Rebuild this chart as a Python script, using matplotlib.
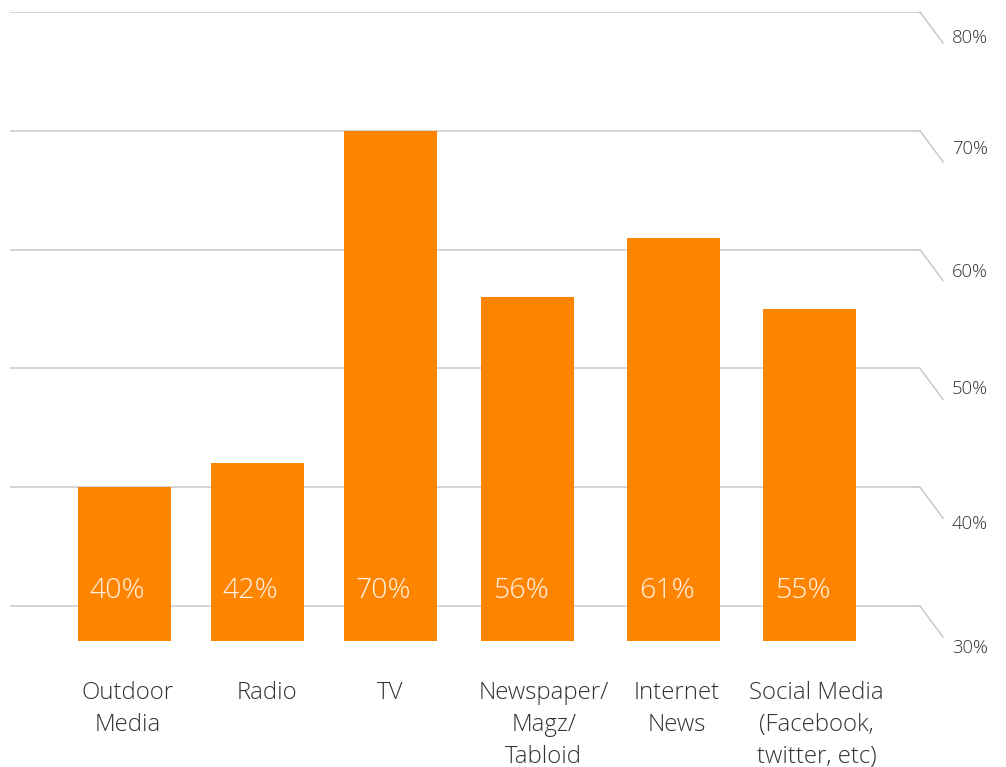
import matplotlib
matplotlib.use("Agg")
import matplotlib.pyplot as plt
import matplotlib.transforms as mtransforms
from matplotlib import font_manager

# Media sources and share of respondents (%)
categories = ["Outdoor\nMedia", "Radio", "TV", "Newspaper/\nMagz/\nTabloid",
              "Internet\nNews", "Social Media\n(Facebook,\ntwitter, etc)"]
values = [40, 42, 70, 56, 61, 55]
y_ticks = [30, 40, 50, 60, 70, 80]
tick_labels = ["30%", "40%", "50%", "60%", "70%", "80%"]

# horizontal slot of each bar (slightly uneven spacing)
bar_pos = [0.0, 0.97, 1.94, 2.94, 4.01, 5.0]
# horizontal nudge of each category caption relative to its bar
caption_shift = [0.02, 0.07, 0.0, 0.12, 0.02, 0.05]
# vertical nudge (px) of each right-hand label below its leader start
label_drop = [42, 37, 21, 22, 18, 26]

BAR_COLOR = "#FF8400"
GRID_COLOR = "#C8C8C8"
TEXT_COLOR = "#333333"

names = {f.name for f in font_manager.fontManager.ttflist}
family = ["Open Sans", "DejaVu Sans"] if "Open Sans" in names else ["DejaVu Sans"]
plt.rcParams["font.family"] = family

fig = plt.figure(figsize=(10.06, 7.67), dpi=100)
W, H = 1006, 767
ax = fig.add_axes([10 / W, (H - 641) / H, 910 / W, 629 / H])

base = 27.05
ax.set_ylim(base, 80)
ax.set_xlim(-0.836, 5.806)
for s in ax.spines.values():
    s.set_visible(False)
ax.set_xticks([])
ax.set_yticks([])

# horizontal gridlines with slanted leaders to the right-hand labels
blend = mtransforms.blended_transform_factory(ax.transAxes, ax.transData)
for t, lab, drop in zip(y_ticks, tick_labels, label_drop):
    ax.axhline(t, color=GRID_COLOR, lw=1.1, zorder=0)
    off = mtransforms.offset_copy(blend, fig=fig, x=23, y=-31, units="dots")
    start = blend.transform((1.0, t))
    end = off.transform((1.0, t))
    fig.add_artist(plt.Line2D([start[0] / W, end[0] / W], [start[1] / H, end[1] / H],
                              transform=fig.transFigure, color=GRID_COLOR, lw=1.1))
    lab_tr = mtransforms.offset_copy(blend, fig=fig, x=32, y=-drop, units="dots")
    ax.text(1.0, t, lab, transform=lab_tr, ha="left", va="center",
            fontsize=13.3, color=TEXT_COLOR, fontweight="light")

heights = [v - base for v in values]
ax.bar(bar_pos, heights, bottom=base, width=0.679, color=BAR_COLOR, zorder=2)

for xi, v in zip(bar_pos, values):
    ax.text(xi - 0.05, 31.3, f"{v}%", ha="center", va="center",
            fontsize=20.5, color="#FFF3E6", fontweight="light", zorder=3)

for xi, dx, c in zip(bar_pos, caption_shift, categories):
    ax.text(xi + dx, base - 3.4, c, ha="center", va="top", fontsize=17.3,
            color=TEXT_COLOR, fontweight="light", linespacing=1.42,
            clip_on=False)

fig.savefig("out.png", dpi=100)
